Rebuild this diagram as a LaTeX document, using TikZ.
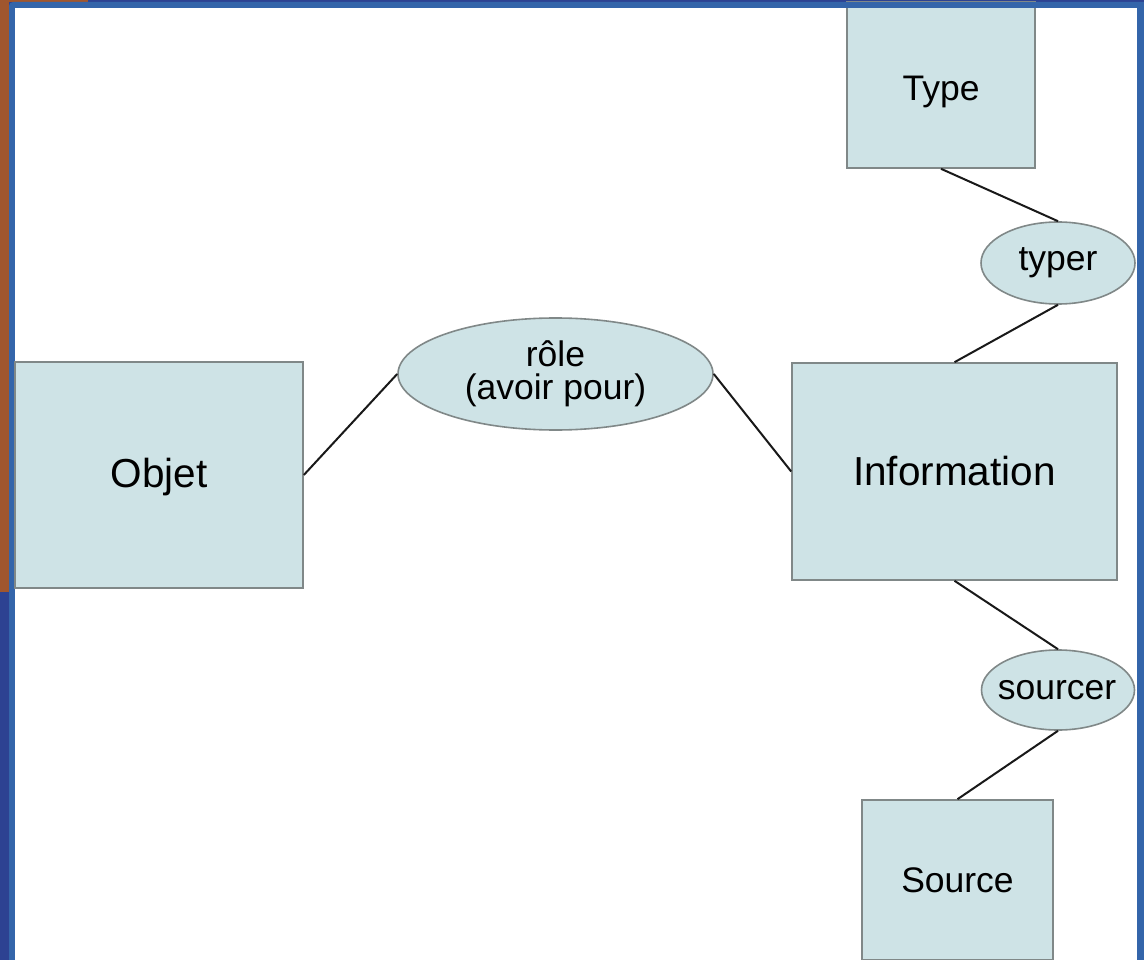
\documentclass[tikz,border=0pt]{standalone}
\usepackage{fontspec}
\setmainfont{Liberation Sans}
\usetikzlibrary{shapes.geometric}
\definecolor{navy}{RGB}{45,66,146}
\definecolor{rust}{RGB}{160,86,46}
\definecolor{framebl}{RGB}{52,101,170}
\definecolor{boxfill}{RGB}{206,227,230}
\definecolor{boxline}{RGB}{128,136,136}
\tikzset{
  entity/.style={draw=boxline, fill=boxfill, line width=1.6pt, inner sep=0pt, anchor=center},
  relation/.style={ellipse, draw=boxline, fill=boxfill, line width=1.6pt, inner sep=0pt},
  bigtxt/.style={font=\fontsize{40.5}{44}\selectfont},
  smalltxt/.style={font=\fontsize{35.5}{33}\selectfont, align=center},
  link/.style={draw=black!90, line width=2pt}
}
\begin{document}
\begin{tikzpicture}[x=1pt,y=-1pt]
\useasboundingbox (0,0) rectangle (1144,960);
% backdrop
\fill[navy] (0,0) rectangle (1144,960);
\fill[rust] (0,0) rectangle (88,2);
\fill[rust] (0,0) rectangle (9,592);
\fill[framebl, rounded corners=4pt] (9,2) rectangle (1150,980);
\fill[white] (15,8) rectangle (1137,970);
% entities
\node[entity, minimum width=288, minimum height=226] (objet) at (159,475) {};
\node[bigtxt] (objetlbl) at (159,477) {Objet};
\node[entity, bigtxt, minimum width=325, minimum height=217] (info) at (954.5,471.5) {Information};
\node[entity, minimum width=188, minimum height=166] (type) at (941,85) {};
\node[smalltxt] (typelbl) at (941,92) {Type};
\node[entity, smalltxt, minimum width=191, minimum height=160] (source) at (957.5,880) {Source};
% relations
\node[relation, smalltxt, minimum width=315, minimum height=112] (role) at (555.5,374) {rôle\\(avoir pour)};
\node[relation, minimum width=154, minimum height=82] (typer) at (1058,263) {};
\node[smalltxt] (typerlbl) at (1058,263) {typer};
\node[relation, minimum width=153, minimum height=80] (sourcer) at (1058,690) {};
\node[smalltxt] (sourcerlbl) at (1057,690) {sourcer};
% connectors
\draw[link] (objet.east) -- (role.west);
\draw[link] (role.east) -- (info.west);
\draw[link] (type.south) -- (typer.north);
\draw[link] (typer.south) -- (info.north);
\draw[link] (info.south) -- (sourcer.north);
\draw[link] (sourcer.south) -- (source.north);
% frame top edge over the Type box
\fill[framebl] (15,2) rectangle (1137,8);
\end{tikzpicture}
\end{document}
